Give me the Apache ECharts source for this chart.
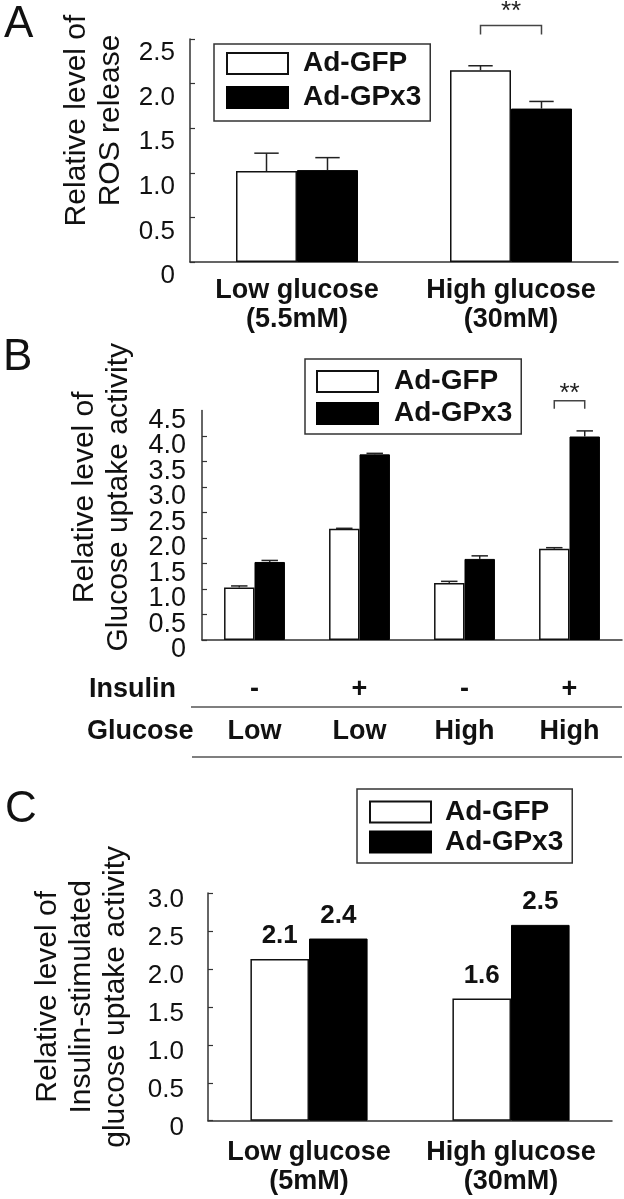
<!DOCTYPE html>
<html><head><meta charset="utf-8">
<script src="https://cdn.jsdelivr.net/npm/echarts@6/dist/echarts.min.js"></script>
<style>html,body{margin:0;padding:0;background:#fff}#c{width:624px;height:1199px}</style>
</head><body><div id="c"></div>
<script>
// ---------- data ----------
const seriesNames = ['Ad-GFP', 'Ad-GPx3'];

// Panel A
const catsA = ['Low glucose\n(5.5mM)', 'High glucose\n(30mM)'];
const gfpA = [1.02, 2.15];
const gfpErrA = [0.20, 0.05];
const gpxA = [1.03, 1.72];
const gpxErrA = [0.14, 0.08];
const yTicksA = ['0', '0.5', '1.0', '1.5', '2.0', '2.5'];
const sigCatA = [1];
const sigLevelA = [2.65];

// Panel B
const insulinB = ['-', '+', '-', '+'];
const glucoseB = ['Low', 'Low', 'High', 'High'];
const gfpB = [1.03, 2.18, 1.12, 1.79];
const gfpErrB = [0.03, 0.01, 0.03, 0.02];
const gpxB = [1.53, 3.64, 1.59, 3.99];
const gpxErrB = [0.03, 0.02, 0.06, 0.11];
const yTicksB = ['0', '0.5', '1.0', '1.5', '2.0', '2.5', '3.0', '3.5', '4.0', '4.5'];
const sigCatB = [3];
const sigLevelB = [4.69];

// Panel C
const catsC = ['Low glucose\n(5mM)', 'High glucose\n(30mM)'];
const gfpC = [2.13, 1.61];
const gpxC = [2.40, 2.58];
const gfpLabelC = ['2.1', '1.6'];
const gpxLabelC = ['2.4', '2.5'];
const yTicksC = ['0', '0.5', '1.0', '1.5', '2.0', '2.5', '3.0'];

// ---------- styling helpers ----------
const FF = '"Liberation Sans", Arial, Helvetica, sans-serif';
const INK = '#111';
const AX = '#333';
const gapA = 0.43, gapB = 0.42, gapC = 0.42;

function errRender(side, gapRatio, capFrac) {
  return function (params, api) {
    const ci = api.value(0), val = api.value(1), err = api.value(2);
    const band = api.size([1, 0])[0];
    const bw = band * (1 - gapRatio) / 2;
    const cx = api.coord([ci, 0])[0] + side * bw / 2;
    const y0 = api.coord([ci, val])[1];
    const y1 = api.coord([ci, val + err])[1];
    const ch = bw * capFrac;
    return {
      type: 'group', children: [
        { type: 'line', shape: { x1: cx, y1: y0, x2: cx, y2: y1 }, style: { stroke: '#222', lineWidth: 1.5 } },
        { type: 'line', shape: { x1: cx - ch, y1: y1, x2: cx + ch, y2: y1 }, style: { stroke: '#222', lineWidth: 1.5 } }
      ]
    };
  };
}
function sigRender(gapRatio, legLen, textUp) {
  return function (params, api) {
    const ci = api.value(0), lvl = api.value(1);
    const band = api.size([1, 0])[0];
    const bw = band * (1 - gapRatio) / 2;
    const c = api.coord([ci, lvl]);
    const xl = c[0] - bw / 2, xr = c[0] + bw / 2, y = c[1];
    return {
      type: 'group', children: [
        { type: 'polyline', shape: { points: [[xl, y + legLen], [xl, y], [xr, y], [xr, y + legLen]] },
          style: { stroke: '#444', lineWidth: 1.5, fill: null } },
        { type: 'text', x: c[0], y: y - textUp,
          style: { text: '**', fontSize: 26, fontFamily: FF, fill: '#222', align: 'center', verticalAlign: 'middle' } }
      ]
    };
  };
}
function barSeries(name, data, xi, yi, white, gap, extra) {
  return Object.assign({
    type: 'bar', name: name, data: data, xAxisIndex: xi, yAxisIndex: yi,
    barGap: '0%', barCategoryGap: (gap * 100) + '%',
    itemStyle: white ? { color: '#fff', borderColor: '#111', borderWidth: 1.5 } : { color: '#000', borderColor: '#000', borderWidth: 1 }
  }, extra || {});
}
function errData(vals, errs) { return vals.map((v, i) => [i, v, errs[i]]); }
function sigData(cats, levels) { return cats.map((c, i) => [c, levels[i]]); }

function yAxisCfg(gi, max, fmt, labelSize, labelMargin, labelShift, name, nameGap, nameShift, showMin, showMax) {
  return {
    gridIndex: gi, type: 'value', min: 0, max: max, interval: 0.5, position: 'left',
    splitLine: { show: false },
    axisLine: { show: true, lineStyle: { color: AX, width: 1.5 } },
    axisTick: { show: true, inside: true, length: 5, lineStyle: { color: AX, width: 1.2 } },
    axisLabel: { formatter: fmt, fontSize: labelSize, fontFamily: FF, color: INK,
      margin: labelMargin, verticalAlign: 'top', lineHeight: labelShift * 2,
      showMinLabel: showMin, showMaxLabel: showMax, hideOverlap: false },
    name: name, nameLocation: 'middle', nameRotate: 90, nameGap: nameGap,
    nameTextStyle: { fontSize: 30, fontFamily: FF, color: INK, lineHeight: 34, align: 'center',
      padding: [0, 0, 0, nameShift * 2] }
  };
}
function legendCfg(left, top, pad, gap, textPad) {
  return {
    data: seriesNames, left: left, top: top, orient: 'vertical', icon: 'rect',
    itemWidth: 61, itemHeight: 21, itemGap: gap, padding: pad,
    borderColor: '#333', borderWidth: 1.5, selectedMode: false,
    textStyle: { fontSize: 28, fontWeight: 'bold', fontFamily: FF, color: INK, lineHeight: 28, padding: [0, 0, 0, textPad] }
  };
}

// Panel B tick labels are split over two overlaid axes so that none is dropped
const yB1 = yAxisCfg(1, 4.5, (v, i) => (i % 2 === 0 ? yTicksB[i] : ''), 27, 16, 10,
  'Relative level of\nGlucose uptake activity', 66, 28, true, false);
const yB2 = yAxisCfg(1, 4.5, (v, i) => (i % 2 === 1 ? yTicksB[i] : ''), 27, 16, 10, '', 0, 0, false, true);
yB2.axisLine = { show: false };
yB2.axisTick = { show: false };

const option = {
  animation: false,
  backgroundColor: '#fff',
  textStyle: { fontFamily: FF },
  grid: [
    { left: 190, top: 39, width: 428, height: 223, containLabel: false, outerBoundsMode: 'none' },
    { left: 202, top: 410.5, width: 420, height: 229.5, containLabel: false, outerBoundsMode: 'none' },
    { left: 208, top: 893, width: 404, height: 227.7, containLabel: false, outerBoundsMode: 'none' }
  ],
  legend: [
    legendCfg(214, 44, [5.5, 9, 9.5, 12], 6, 10),
    legendCfg(305, 359, [8.5, 9, 6.5, 11], 4, 11),
    legendCfg(357, 789, [9, 9, 7, 12], 2, 9)
  ],
  xAxis: [
    { gridIndex: 0, type: 'category', data: catsA,
      axisLine: { lineStyle: { color: AX, width: 1.5 } },
      axisTick: { inside: true, length: 6, lineStyle: { color: AX, width: 1.2 } },
      axisLabel: { interval: 0, fontSize: 27, fontWeight: 'bold', fontFamily: FF, color: INK, lineHeight: 29, margin: 14 } },
    { gridIndex: 1, type: 'category', data: insulinB.map((s, i) => s + ' ' + glucoseB[i]),
      axisLine: { lineStyle: { color: AX, width: 1.5 } },
      axisTick: { show: false },
      axisLabel: { interval: 0, formatter: (v, i) => insulinB[i] + '\n' + glucoseB[i], fontSize: 27, fontWeight: 'bold',
        fontFamily: FF, color: INK, lineHeight: 42, margin: 29 } },
    { gridIndex: 2, type: 'category', data: catsC,
      axisLine: { lineStyle: { color: AX, width: 1.5 } },
      axisTick: { inside: true, length: 6, lineStyle: { color: AX, width: 1.2 } },
      axisLabel: { interval: 0, fontSize: 27, fontWeight: 'bold', fontFamily: FF, color: INK, lineHeight: 29, margin: 17 } }
  ],
  yAxis: [
    yAxisCfg(0, 2.5, (v, i) => yTicksA[i], 26, 15, 14, 'Relative level of\nROS release', 62, 30, true, true),
    yB1,
    yAxisCfg(2, 3.0, (v, i) => yTicksC[i], 26, 24, 7, 'Relative level of\nInsulin-stimulated\nglucose uptake activity', 75, 10, true, true),
    yB2
  ],
  series: [
    // Panel A
    barSeries(seriesNames[0], gfpA, 0, 0, true, gapA),
    barSeries(seriesNames[1], gpxA, 0, 0, false, gapA),
    { type: 'custom', xAxisIndex: 0, yAxisIndex: 0, renderItem: errRender(-1, gapA, 0.2), data: errData(gfpA, gfpErrA), z: 5, silent: true },
    { type: 'custom', xAxisIndex: 0, yAxisIndex: 0, renderItem: errRender(1, gapA, 0.2), data: errData(gpxA, gpxErrA), z: 5, silent: true },
    { type: 'custom', xAxisIndex: 0, yAxisIndex: 0, renderItem: sigRender(gapA, 9, 14), data: sigData(sigCatA, sigLevelA), clip: false, silent: true },
    // Panel B
    barSeries(seriesNames[0], gfpB, 1, 1, true, gapB),
    barSeries(seriesNames[1], gpxB, 1, 1, false, gapB),
    { type: 'custom', xAxisIndex: 1, yAxisIndex: 1, renderItem: errRender(-1, gapB, 0.27), data: errData(gfpB, gfpErrB), z: 5, silent: true },
    { type: 'custom', xAxisIndex: 1, yAxisIndex: 1, renderItem: errRender(1, gapB, 0.27), data: errData(gpxB, gpxErrB), z: 5, silent: true },
    { type: 'custom', xAxisIndex: 1, yAxisIndex: 1, renderItem: sigRender(gapB, 8, 7), data: sigData(sigCatB, sigLevelB), clip: false, silent: true },
    // Panel C
    barSeries(seriesNames[0], gfpC, 2, 2, true, gapC, {
      label: { show: true, position: 'top', distance: 10, formatter: p => gfpLabelC[p.dataIndex],
        fontSize: 26, fontWeight: 'bold', fontFamily: FF, color: INK } }),
    barSeries(seriesNames[1], gpxC, 2, 2, false, gapC, {
      label: { show: true, position: 'top', distance: 10, formatter: p => gpxLabelC[p.dataIndex],
        fontSize: 26, fontWeight: 'bold', fontFamily: FF, color: INK } })
  ],
  graphic: [
    { type: 'text', left: 4, top: 3, style: { text: 'A', fontSize: 44, fontFamily: FF, fill: INK } },
    { type: 'text', left: 3, top: 336, style: { text: 'B', fontSize: 44, fontFamily: FF, fill: INK } },
    { type: 'text', left: 5, top: 788, style: { text: 'C', fontSize: 44, fontFamily: FF, fill: INK } },
    { type: 'text', left: 89, top: 676, style: { text: 'Insulin', fontSize: 27, fontWeight: 'bold', fontFamily: FF, fill: INK } },
    { type: 'text', left: 87, top: 718, style: { text: 'Glucose', fontSize: 27, fontWeight: 'bold', fontFamily: FF, fill: INK } },
    { type: 'line', shape: { x1: 191, y1: 707, x2: 622, y2: 707 }, style: { stroke: '#555', lineWidth: 1.5 } },
    { type: 'line', shape: { x1: 192, y1: 757, x2: 622, y2: 757 }, style: { stroke: '#555', lineWidth: 1.5 } }
  ]
};

const chart = echarts.init(document.getElementById('c'), null, { renderer: 'canvas' });
chart.setOption(option);
</script>
</body></html>
